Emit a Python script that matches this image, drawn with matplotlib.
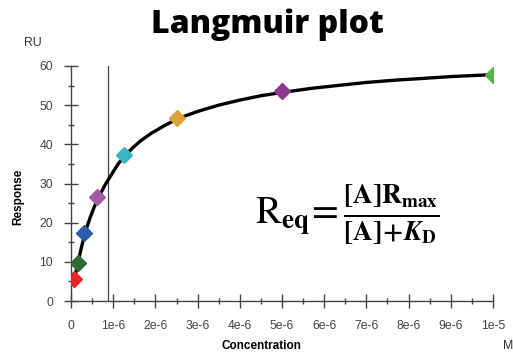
import matplotlib
matplotlib.use("Agg")
import matplotlib.pyplot as plt
from matplotlib.ticker import MultipleLocator

# Data (concentration in M, response in RU)
conc = [0.078e-6, 0.156e-6, 0.3125e-6, 0.625e-6, 1.25e-6, 2.5e-6, 5e-6, 10e-6]
resp = [5.5, 9.7, 17.4, 26.5, 37.2, 46.7, 53.5, 57.8]
colors = ["#e8232b", "#2d6a34", "#2b5ca8", "#a25aa6", "#38b6c6", "#dca134", "#8b3a8e", "#52b24a"]

# fitted curve
curve_x = [0.078e-6, 0.16e-6, 0.25e-6, 0.33e-6, 0.45e-6, 0.55e-6, 0.65e-6, 0.8e-6, 0.885e-6,
           1.0e-6, 1.13e-6, 1.28e-6, 1.45e-6, 1.65e-6, 1.9e-6, 2.2e-6, 2.54e-6, 3.0e-6,
           3.5e-6, 4.0e-6, 4.5e-6, 5.03e-6, 5.7e-6, 6.3e-6, 7.0e-6, 7.7e-6, 8.3e-6,
           9.0e-6, 10e-6]
curve_y = [5.4, 9.6, 13.8, 17.3, 21.2, 24.0, 26.4, 29.5, 31.0,
           33.0, 35.2, 37.1, 39.0, 40.9, 42.8, 44.7, 46.6, 48.4,
           50.0, 51.3, 52.4, 53.3, 54.3, 55.0, 55.8, 56.4, 56.8,
           57.3, 57.8]

kd = 0.885e-6
xticks = [0, 1e-6, 2e-6, 3e-6, 4e-6, 5e-6, 6e-6, 7e-6, 8e-6, 9e-6, 1e-5]
xticklabels = ["0", "1e-6", "2e-6", "3e-6", "4e-6", "5e-6", "6e-6", "7e-6", "8e-6", "9e-6", "1e-5"]

plt.rcParams['font.family'] = ['Liberation Sans', 'DejaVu Sans']
plt.rcParams['mathtext.fontset'] = 'stix'

fig = plt.figure(figsize=(5.13, 3.53), dpi=100)
ax = fig.add_axes([71/513, 1 - 301/353, (493 - 71)/513, (301 - 66)/353])

ax.plot(curve_x, curve_y, color="black", lw=2.4, solid_capstyle="round", zorder=2)
ax.plot([kd, kd], [0, 60], color="#444444", lw=0.9, zorder=1)
for x, y, c in zip(conc, resp, colors):
    ax.plot([x], [y], marker="D", ms=8.5, color=c, mec=c, zorder=3)

ax.set_xlim(0, 1e-5)
ax.set_ylim(0, 60)
for s in ["top", "right"]:
    ax.spines[s].set_visible(False)
for s in ["left", "bottom"]:
    ax.spines[s].set_color("#444444")
    ax.spines[s].set_linewidth(1.0)

ax.set_xticks(xticks)
ax.set_xticklabels(xticklabels)
ax.xaxis.set_minor_locator(MultipleLocator(0.5e-6))
ax.yaxis.set_major_locator(MultipleLocator(10))
ax.yaxis.set_minor_locator(MultipleLocator(5))
ax.tick_params(axis="both", which="major", direction="inout", length=10, width=1.0,
               color="#444444", labelsize=8.8, labelcolor="#444444")
ax.tick_params(axis="both", which="minor", direction="inout", length=4.5, width=1.0,
               color="#444444")
ax.tick_params(axis="x", which="major", pad=9)
ax.tick_params(axis="y", which="major", pad=8)

fig.text(267/513, 1 - 25/353, "Langmuir plot", ha="center", va="center",
         fontsize=23, fontweight=800, family=["Open Sans", "DejaVu Sans"])
fig.text(33/513, 1 - 43/353, "RU", ha="center", va="center", fontsize=8.8, color="#333333")
fig.text(18/513, 1 - 197/353, "Response", ha="center", va="center", rotation=90,
         fontsize=8.5, fontweight="bold")
fig.text(261.5/513, 1 - 346/353, "Concentration", ha="center", va="center",
         fontsize=8.5, fontweight="bold")
fig.text(508/513, 1 - 346/353, "M", ha="center", va="center", fontsize=8.8, color="#333333")

fig.text(255/513, 1 - 214/353,
         r"$\mathrm{R}_{\mathbf{eq}}\!=\frac{\mathbf{[A]R}_{\mathbf{max}}}{\mathbf{[A]\!+\!}\mathbfit{K}_{\mathbf{D}}}$",
         ha="left", va="center", fontsize=28)

fig.savefig("out.png", dpi=100)
